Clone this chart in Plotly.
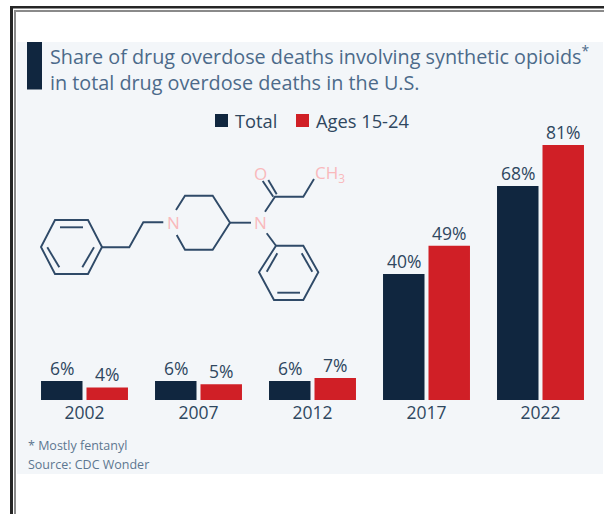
import plotly.graph_objects as go

# Chart data
years = ["2002", "2007", "2012", "2017", "2022"]
total = [6, 6, 6, 40, 68]
ages_15_24 = [4, 5, 7, 49, 81]

W, H = 604, 514
NAVY = "#10263f"
RED = "#d01f26"
INK = "#2f4760"
TITLE_INK = "#4c6a8a"
NOTE_INK = "#5d7690"
BOND = "#2f4a68"
HETERO = "#f9b9bc"
FONT = "Open Sans"

BAR_GAP = 0.202
GROUP_GAP = 0.088


def fx(px):
    return px / W


def fy(py):
    return 1 - py / H


def rect(x0, y0, x1, y1, color):
    return dict(type="rect", xref="paper", yref="paper", x0=fx(x0), x1=fx(x1),
                y0=fy(y1), y1=fy(y0), fillcolor=color, line_width=0, layer="below")


def bond_path(points, closed=False, width=1.9):
    d = "M " + " L ".join(f"{fx(x):.5f},{fy(y):.5f}" for x, y in points)
    if closed:
        d += " Z"
    return dict(type="path", xref="paper", yref="paper", path=d,
                line=dict(color=BOND, width=width), layer="above")


def label(text, px, py, size, color, anchor="left"):
    return dict(text=text, x=fx(px), y=fy(py), xref="paper", yref="paper",
                xanchor=anchor, yanchor="middle", showarrow=False, borderpad=0,
                font=dict(family=FONT, size=size, color=color))


def value_labels(values, side):
    # Percent labels sit just above each bar, centred on its half of the group
    offset = side * (1 - BAR_GAP) / 4
    return [
        dict(text=f"{v}%", x=i + offset, y=v, xref="x", yref="y",
             xanchor="center", yanchor="bottom", showarrow=False, borderpad=0,
             font=dict(family=FONT, size=17.5, color=INK))
        for i, v in enumerate(values)
    ]


fig = go.Figure()
fig.add_bar(name="Total", x=years, y=total, marker_color=NAVY)
fig.add_bar(name="Ages 15-24", x=years, y=ages_15_24, marker_color=RED)
fig.update_traces(marker_line_width=0)

shapes = [
    # Page frame and panel
    rect(10, 6, 13, 514, "#262626"),
    rect(14, 10, 16, 514, "#8a8a8a"),
    rect(10, 6, 604, 8.5, "#262626"),
    rect(14, 10, 604, 12, "#8a8a8a"),
    rect(17, 42, 603, 474, "#f3f6f9"),
    rect(27, 42, 42, 89.5, NAVY),
    # Legend swatches
    rect(215, 114, 228, 127, NAVY),
    rect(296, 114, 309, 127, RED),
]

# Skeletal formula of fentanyl
shapes += [
    bond_path([(55, 220), (88, 220), (102, 247), (88, 274), (55, 274), (41, 247)], closed=True),
    bond_path([(60, 227.3), (83, 227.3)]),
    bond_path([(47.3, 247.3), (59.3, 267.3)]),
    bond_path([(82.3, 267.3), (94, 247.3)]),
    bond_path([(102, 247.3), (129.3, 247.3), (143.3, 222.3), (163.3, 222.3)]),
    bond_path([(176, 210), (185, 195.7), (212.7, 195.7), (230, 222.7),
               (212.7, 249.7), (185, 249.7), (176.7, 235)]),
    bond_path([(230, 222.7), (251, 222.7)]),
    bond_path([(265, 211.7), (275, 196.7), (303.3, 196.7), (314, 179)]),
    bond_path([(273.3, 196.7), (262.7, 181)]),
    bond_path([(268.3, 180), (276.7, 194.3)]),
    bond_path([(266.7, 233.3), (276, 245.7)]),
    bond_path([(276, 245.7), (303.3, 245.7), (318.3, 272.3), (303.3, 300),
               (274, 300), (259, 272.3)], closed=True),
    bond_path([(266.7, 271.7), (277.3, 253.3)]),
    bond_path([(301.7, 253.3), (312.3, 271.7)]),
    bond_path([(277.3, 292.7), (300, 292.7)]),
]

annotations = [
    label("Total", 234, 120.5, 18.3, INK),
    label("Ages 15-24", 315, 120.5, 18.3, INK),
    label("N", 173.3, 222.5, 17, HETERO, "center"),
    label("N", 260, 222.5, 17, HETERO, "center"),
    label("O", 260, 173, 17, HETERO, "center"),
    label("CH<sub>3</sub>", 313.5, 173, 17, HETERO),
    label("* Mostly fentanyl", 27, 445, 12.5, NOTE_INK),
    label("Source: CDC Wonder", 27, 464, 12.5, NOTE_INK),
]
annotations += value_labels(total, -1) + value_labels(ages_15_24, 1)

fig.update_layout(
    width=W,
    height=H,
    autosize=False,
    margin=dict(l=0, r=0, t=0, b=0),
    paper_bgcolor="white",
    plot_bgcolor="rgba(0,0,0,0)",
    showlegend=False,
    barmode="group",
    bargap=BAR_GAP,
    bargroupgap=GROUP_GAP,
    title=dict(
        text="Share of drug overdose deaths involving synthetic opioids<sup>*</sup><br>"
             "in total drug overdose deaths in the U.S.",
        x=fx(50), xanchor="left", xref="paper",
        y=fy(64), yanchor="top", yref="paper",
        font=dict(family=FONT, size=19.8, color=TITLE_INK),
    ),
    xaxis=dict(
        domain=[fx(27.5), fx(597.5)],
        showline=False, showgrid=False, zeroline=False, ticks="",
        tickfont=dict(family=FONT, size=17.5, color=INK),
    ),
    yaxis=dict(
        domain=[fy(400), fy(130)],
        range=[0, 85.77],
        visible=False,
    ),
    shapes=shapes,
    annotations=annotations,
)

fig.write_html("out.html")
